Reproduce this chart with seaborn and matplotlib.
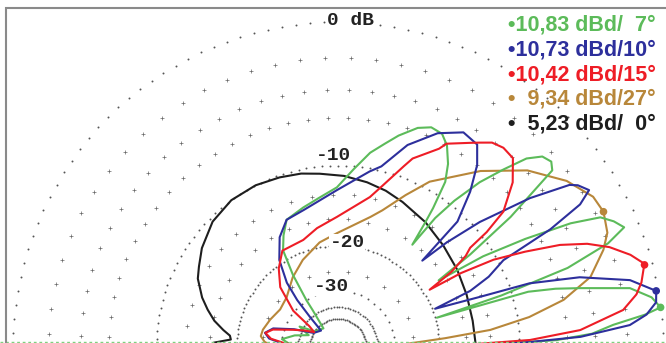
import numpy as np
import pandas as pd
import matplotlib
matplotlib.use("Agg")
from matplotlib import pyplot as plt
from matplotlib.patches import Rectangle
import seaborn as sns

# elevation patterns: angle (deg) / gain (dB, 0 dB = 10,83 dBd)
green_ang = [0, 0.8, 1.8, 3, 4.6, 6, 7, 9, 11.4, 13.7, 15, 16.2, 16.5, 17.5, 19, 21, 22.7, 24.5,
             26.3, 28, 30, 32, 33.5, 35, 37, 39.5, 41, 43, 45, 47, 49.3, 51.5, 53, 54, 55, 55.6, 57,
             59, 61.6, 64, 67, 70, 74, 77, 80.6, 85, 90.4, 97, 104, 112, 116, 119.6, 122, 124,
             124.5, 128, 146, 152, 158, 165, 172, 177, 180]
green_db = [-45, -14, -6.8, -4.2, -2.8, -0.9, 0, -0.4, -1.5, -4.6, -6.3, -8.5, -19.7, -11, -5, -2,
            -0.8, -1.2, -1.8, -3.6, -7, -11, -17, -12, -7, -2.7, -2.4, -2.6, -3.4, -5, -6.9, -9.5,
            -12, -16.2, -13, -11.3, -8.6, -7.2, -6, -5.4, -5.3, -5.7, -6.7, -7.6, -8.6, -10.3,
            -12.2, -13.2, -14, -14.8, -16.5, -18.4, -23, -30, -34, -45, -42, -34.5, -40, -34, -30,
            -33, -45]

blue_ang = [0, 0.8, 1.5, 2.4, 4.3, 6, 8, 10, 12.9, 16.1, 18.4, 19.4, 21.5, 23, 25, 27.7, 29, 30.5,
            32, 34, 35, 37.8, 41.4, 43.9, 45.7, 46.4, 49.6, 52.6, 55.5, 59.7, 65, 71, 76.5, 79.8,
            90.4, 104, 112, 118, 124, 128.5, 131, 133, 136, 150, 158, 164, 169, 173, 176, 180]
blue_db = [-45, -16, -9, -5, -1.8, -0.8, -0.2, -0.1, -1.4, -4.4, -8.2, -13, -19.5, -14, -11.5, -9.5,
           -5, -2.5, -1.6, -2.0, -2.4, -5, -9.3, -13.2, -17, -10.8, -8, -6, -4.8, -4.6, -5.5, -7.2,
           -9.6, -10.3, -12.5, -14.3, -14.8, -16.5, -19.4, -23.6, -28.4, -35.4, -45, -42, -33, -27,
           -25.3, -26.5, -30, -40]

red_ang = [0, 0.8, 2.1, 4, 7.4, 10, 12, 15.2, 17.5, 20.2, 22.5, 24.7, 27, 29.3, 31, 32, 33.5, 35.5,
           36.9, 37.7, 39.3, 43.3, 47.2, 50.3, 53, 55.3, 57.2, 61.9, 63, 68.4, 70, 74.8, 78, 90.4,
           100, 108, 120, 127, 134, 141, 144, 148, 154, 159, 165, 169, 173, 176, 180]
red_db = [-45, -17, -9, -5, -2.1, -1.2, -0.8, -0.4, -1, -2, -3.2, -4.9, -7.5, -10.3, -14, -18.9, -15,
          -12.5, -11.6, -9.4, -7.2, -5.2, -4, -3.9, -4.1, -4.6, -5, -5.9, -6.5, -8.1, -9, -11.5,
          -12.9, -15.7, -17, -18.2, -18.4, -20.5, -23.4, -29.7, -38, -42, -37, -32.8, -27, -25.4,
          -27, -31, -40]

brown_ang = [0, 1, 2.5, 4.7, 6.4, 8.9, 11.8, 15.5, 20.1, 23, 27, 30.5, 36, 43, 51, 61, 66, 72, 76,
             90.5, 100, 112, 123, 136, 147, 158, 167, 172, 176, 180]
brown_db = [-45, -38, -27, -19, -12.9, -8.9, -5.9, -3.7, -2.4, -1.8, -1.49, -1.6, -2.4, -3.9, -6.2,
            -9.3, -11.5, -14, -15.2, -18, -19.2, -21.3, -23.4, -26, -26.6, -25.6, -24.7, -24.5,
            -25.5, -28]

black_ang = [0, 11, 22, 33, 44, 55, 66, 73, 80, 88, 96, 102, 109, 117, 126, 135, 144, 150, 154,
             160, 164, 168, 171.6, 174, 176, 178, 180]
black_db = [-14.7, -14.8, -14.6, -14.2, -13.7, -13.0, -12.3, -11.8, -11.4, -11.0, -10.7, -10.4,
            -10.2, -10.0, -10.0, -10.4, -11.3, -12.1, -12.6, -13.9, -15, -16.2, -17.7, -18.8, -19,
            -16.5, -16]

series = ["black", "brown", "green", "blue", "red"]
colors = {"green": "#5cbb5a", "blue": "#2d2f9c", "red": "#ee1d26", "brown": "#b8873a", "black": "#1e1e1e"}
legend_txt = ["\u202210,83 dBd/  7\u00b0", "\u202210,73 dBd/10\u00b0", "\u202210,42 dBd/15\u00b0",
              "\u2022  9,34 dBd/27\u00b0", "\u2022  5,23 dBd/  0\u00b0"]
legend_keys = ["green", "blue", "red", "brown", "black"]

# max markers
peak_key = ["green", "blue", "red", "brown"]
peak_ang = [7, 10, 15, 27]
peak_db = [0, -0.1, -0.41, -1.49]

# grid
ring_db = [0, -10, -20, -36, -42]
cross_db = [-2, -4, -6, -13, -16, -25]
cross_step = [5, 5, 5, 8, 9, 15]
dot_db = [-30]
scale_lbl = ["0 dB", "-10", "-20", "-30"]
scale_db = [0, -10, -20, -30]
lbl_dx = [0.037, -0.015, 0.028, -0.02]
lbl_dy = [0.006, 0.03, 0.01, 0.011]


def arrl(db):
    # ARRL log scale, factor 0.89 for every 2 dB
    return 0.89 ** (-np.asarray(db, dtype=float) / 2.0)


def to_xy(ang, db):
    r = arrl(db)
    a = np.radians(np.asarray(ang, dtype=float))
    return r * np.cos(a), r * np.sin(a)


data = {"green": (green_ang, green_db), "blue": (blue_ang, blue_db), "red": (red_ang, red_db),
        "brown": (brown_ang, brown_db), "black": (black_ang, black_db)}

frames = []
for s in series:
    x, y = to_xy(*data[s])
    frames.append(pd.DataFrame({"series": s, "x": x, "y": y}))
curves = pd.concat(frames, ignore_index=True)

sns.set_theme(style="white")
plt.rcParams["font.family"] = ["Liberation Sans", "DejaVu Sans"]

fig = plt.figure(figsize=(6.66, 3.43), dpi=100)
ax = fig.add_axes([0, 0, 1, 1])

# dotted rings
gx, gy = [], []
for lev in ring_db:
    a = np.arange(0, 180.01, 2.5 if lev > -30 else 4)
    x, y = to_xy(a, np.full(a.shape, lev))
    gx += list(x)
    gy += list(y)
for lev in dot_db:
    a = np.arange(2, 180, 8)
    x, y = to_xy(a, np.full(a.shape, lev))
    gx += list(x)
    gy += list(y)
sns.scatterplot(x=gx, y=gy, ax=ax, marker="o", s=2.0, color="#555555", linewidth=0, legend=False)

cx, cy = [], []
for lev, st in zip(cross_db, cross_step):
    a = np.arange(st / 2, 180, st)
    x, y = to_xy(a, np.full(a.shape, lev))
    cx += list(x)
    cy += list(y)
sns.scatterplot(x=cx, y=cy, ax=ax, marker="+", s=6, color="#666666", linewidth=0.5, legend=False)

for lbl, lev, dx, dy in zip(scale_lbl, scale_db, lbl_dx, lbl_dy):
    ax.text(dx, arrl(lev) + dy, lbl, ha="center", va="center",
            fontsize=14, fontweight="bold", family="Liberation Mono", color="#222222",
            bbox=dict(facecolor="white", edgecolor="none", pad=0.3))

sns.lineplot(data=curves, x="x", y="y", hue="series", palette=colors, sort=False,
             estimator=None, linewidth=1.5, legend=False, ax=ax)

px, py = to_xy(peak_ang, peak_db)
sns.scatterplot(x=px, y=py, hue=peak_key, palette=colors, s=30, linewidth=0, legend=False, ax=ax)

ax.axhline(0.016, color="#7fcf7f", lw=1.0, ls=(0, (2, 2)))

ax.set_xlim(-338 / 325, 328 / 325)
ax.set_ylim(4 / 325, 347 / 325)
ax.axis("off")

for i, (t, k) in enumerate(zip(legend_txt, legend_keys)):
    fig.text(656 / 666, 1 - (25 + 24.8 * i) / 343, t, ha="right", va="center", fontsize=15.5,
             fontweight="bold", color=colors[k])

fig.patches.append(Rectangle((6 / 666, -0.1), 1.2, 1.1 - 8 / 343, transform=fig.transFigure,
                             fill=False, edgecolor="#8a8a8a", linewidth=1.5))

fig.savefig("out.png", dpi=100)
plt.close(fig)
